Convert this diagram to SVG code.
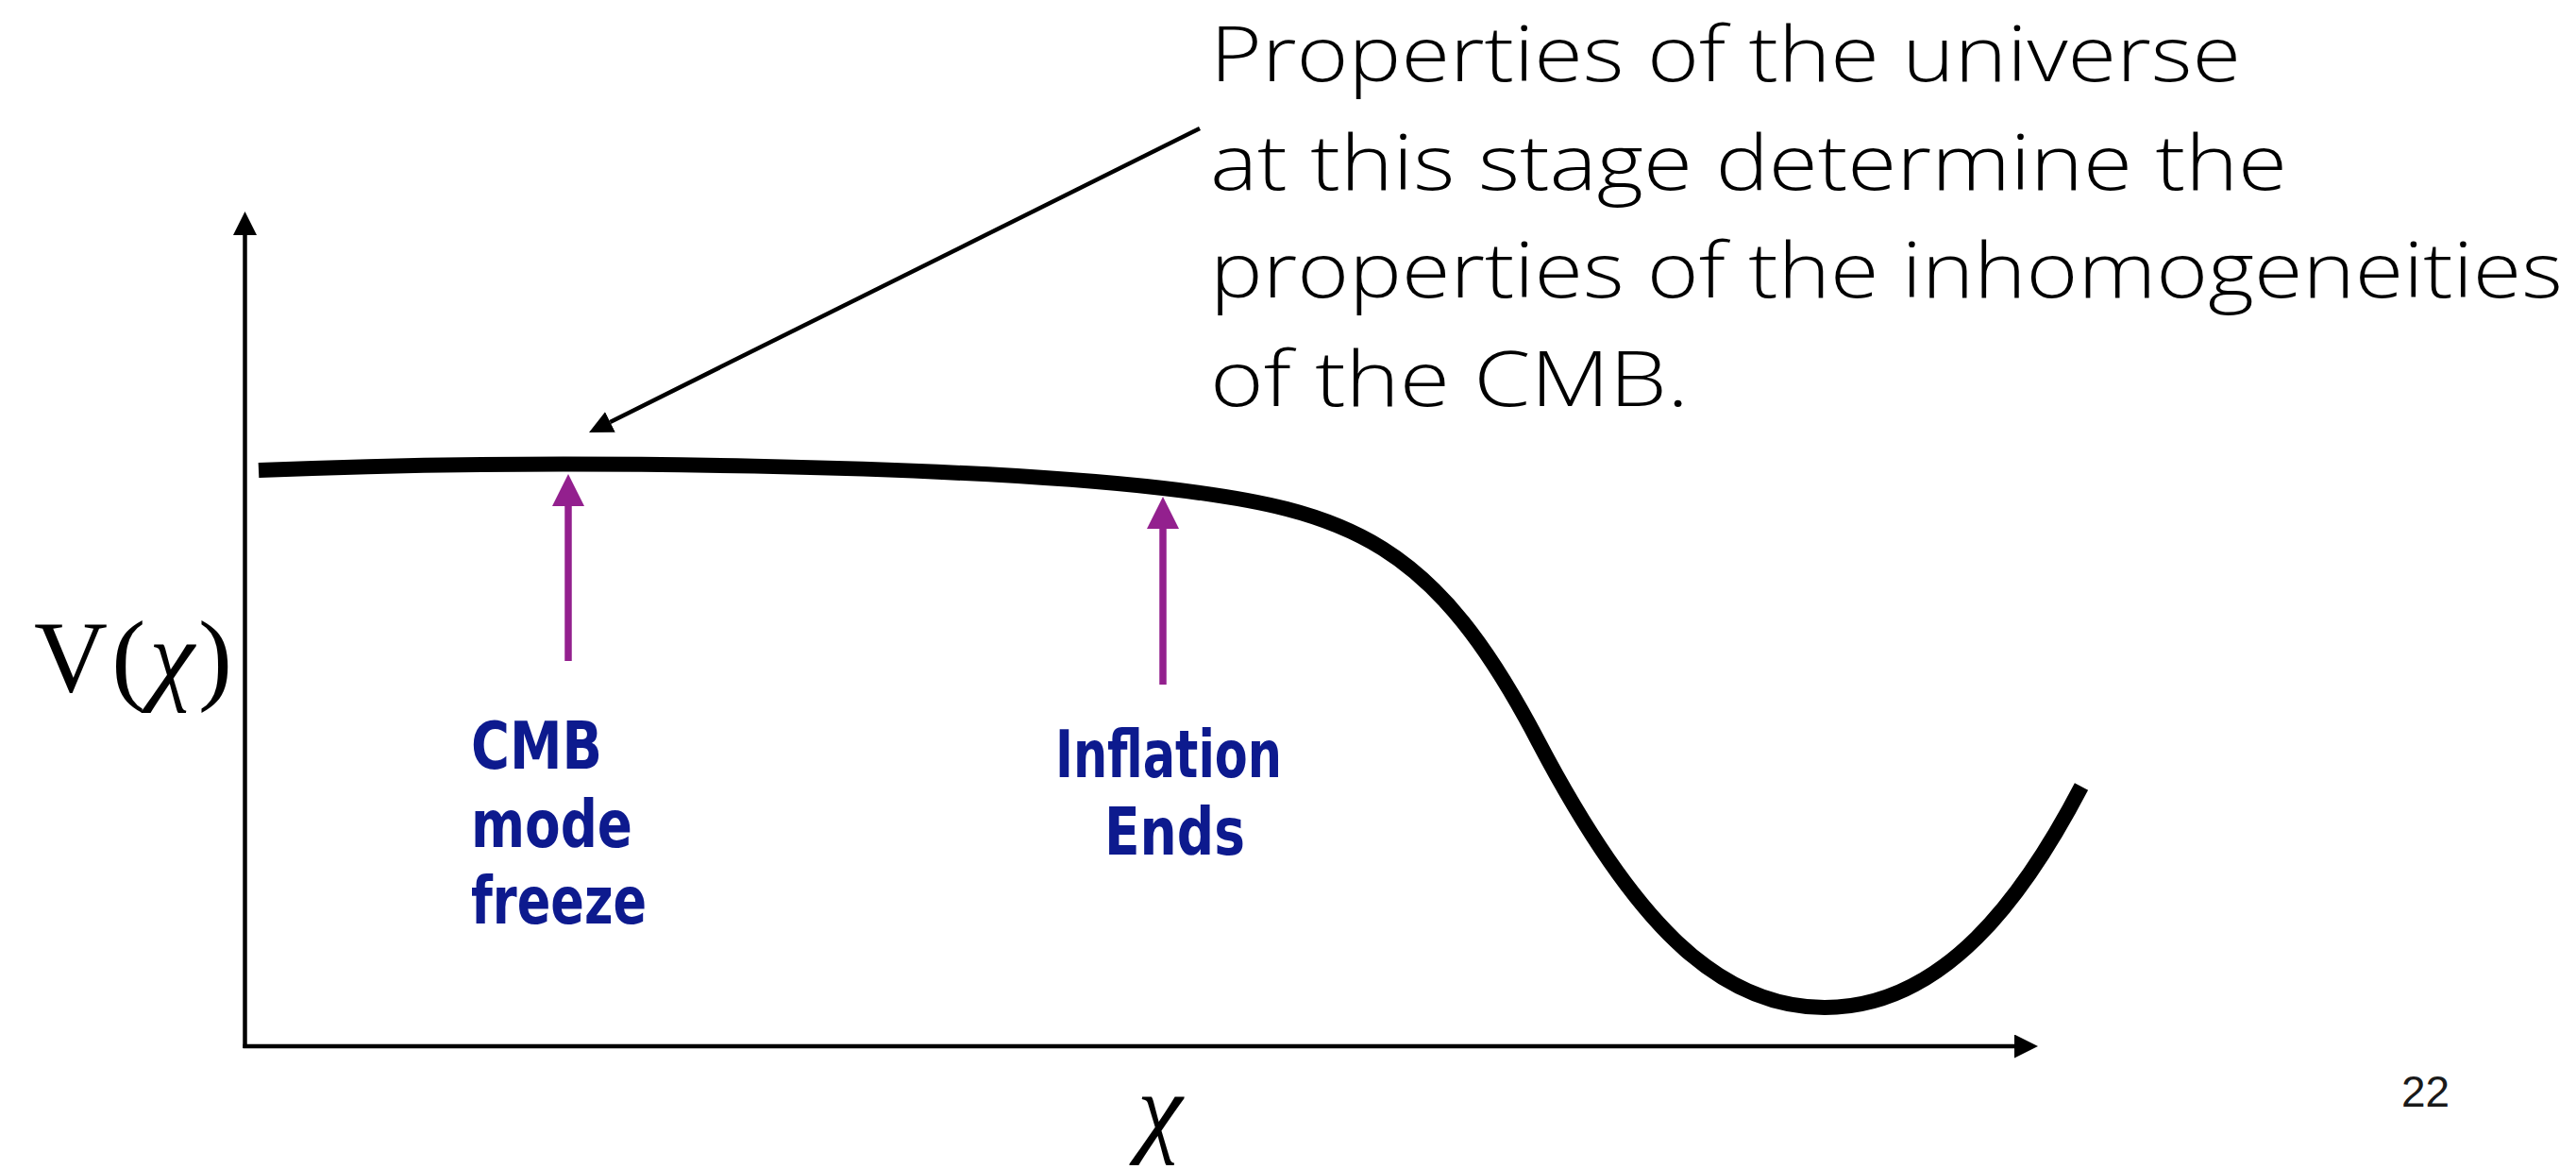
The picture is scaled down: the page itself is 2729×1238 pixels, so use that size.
<svg xmlns="http://www.w3.org/2000/svg" width="2729" height="1238" viewBox="0 0 2729 1238">
  <style>
    .bg { fill: #ffffff; }
    .axis { stroke: #000000; stroke-width: 4.5; fill: none; }
    .pointer { stroke: #000000; stroke-width: 4.5; fill: none; }
    .mark { stroke: #93208e; stroke-width: 7.5; fill: none; }
    .curve { stroke: #000000; stroke-width: 16; fill: none; stroke-linecap: butt; }
    .note { font-family: "Open Sans", "Liberation Sans", sans-serif; font-weight: 300; font-size: 82px; fill: #000000; }
    .lbl { font-family: "DejaVu Sans Condensed", "DejaVu Sans", sans-serif; font-weight: bold; font-size: 70px; fill: #0d1a8e; }
    .math { font-family: "Liberation Serif", "DejaVu Serif", serif; font-size: 108px; fill: #000000; }
    .page { font-family: "Liberation Sans", sans-serif; font-size: 46px; fill: #1a1a1a; }
  </style>
  <defs>
    <marker id="ahBlack" markerUnits="userSpaceOnUse" markerWidth="25" markerHeight="25" refX="0" refY="12.5" orient="auto">
      <path d="M0,0 L25,12.5 L0,25 z" fill="#000000"/>
    </marker>
    <marker id="ahPointer" markerUnits="userSpaceOnUse" markerWidth="25" markerHeight="24" refX="0" refY="12" orient="auto">
      <path d="M0,0 L25,12 L0,24 z" fill="#000000"/>
    </marker>
    <marker id="ahPurple" markerUnits="userSpaceOnUse" markerWidth="34" markerHeight="34" refX="0" refY="17" orient="auto">
      <path d="M0,0 L34,17 L0,34 z" fill="#93208e"/>
    </marker>
  </defs>
  <rect class="bg" x="0" y="0" width="2729" height="1238"/>

  <g id="axes">
    <line class="axis" x1="259.5" y1="1110" x2="259.5" y2="249" marker-end="url(#ahBlack)"/>
    <line class="axis" x1="257.5" y1="1108" x2="2134" y2="1108" marker-end="url(#ahBlack)"/>
  </g>

  <g id="potential-curve">
    <path class="curve" d="M274,498 C600,484 1030,494 1232,517 C1432,540 1520,575 1630,786 C1730,976 1820,1067 1933,1067 C2060,1067 2145,948 2205,833"/>
  </g>

  <g id="connectors">
    <line class="pointer" x1="1271" y1="136" x2="646.4" y2="446.9" marker-end="url(#ahPointer)"/>
    <line class="mark" x1="602" y1="700" x2="602" y2="536" marker-end="url(#ahPurple)"/>
    <line class="mark" x1="1232" y1="725" x2="1232" y2="560" marker-end="url(#ahPurple)"/>
  </g>

  <g id="note">
    <text class="note" x="1282" y="86" textLength="1092" lengthAdjust="spacingAndGlyphs">Properties of the universe</text>
    <text class="note" x="1282" y="201" textLength="1141" lengthAdjust="spacingAndGlyphs">at this stage determine the</text>
    <text class="note" x="1282" y="315" textLength="1433" lengthAdjust="spacingAndGlyphs">properties of the inhomogeneities</text>
    <text class="note" x="1282" y="430" textLength="507" lengthAdjust="spacingAndGlyphs">of the CMB.</text>
  </g>

  <g id="label-cmb">
    <text class="lbl" x="499" y="814" textLength="139" lengthAdjust="spacingAndGlyphs">CMB</text>
    <text class="lbl" x="499" y="897" textLength="171" lengthAdjust="spacingAndGlyphs">mode</text>
    <text class="lbl" x="499" y="978" textLength="186" lengthAdjust="spacingAndGlyphs">freeze</text>
  </g>

  <g id="label-inflation">
    <text class="lbl" x="1118" y="823" textLength="240" lengthAdjust="spacingAndGlyphs">Inflation</text>
    <text class="lbl" x="1170" y="905" textLength="149" lengthAdjust="spacingAndGlyphs">Ends</text>
  </g>

  <g id="y-label">
    <text class="math" x="36" y="732" textLength="210" lengthAdjust="spacing">V(<tspan font-style="italic">χ</tspan>)</text>
  </g>

  <g id="x-label">
    <text class="math" x="1205" y="1211" font-style="italic">χ</text>
  </g>

  <g id="page-number">
    <text class="page" x="2544" y="1172">22</text>
  </g>
</svg>
